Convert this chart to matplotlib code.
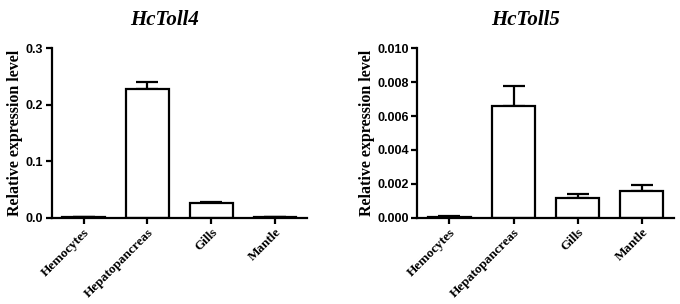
import matplotlib
matplotlib.use('Agg')
import matplotlib.pyplot as plt

tissues = ['Hemocytes', 'Hepatopancreas', 'Gills', 'Mantle']

toll4_mean = [0.0010, 0.2278, 0.0260, 0.0010]
toll4_err = [0.0003, 0.0125, 0.0020, 0.0003]

toll5_mean = [0.00008, 0.00657, 0.00118, 0.00161]
toll5_err = [0.00002, 0.00118, 0.00023, 0.00035]

fig = plt.figure(figsize=(6.8, 3.04), dpi=100)
ax1 = fig.add_axes([0.076, 0.283, 0.3755, 0.559])
ax2 = fig.add_axes([0.6137, 0.283, 0.3773, 0.559])

panels = [
    (ax1, 'HcToll4', toll4_mean, toll4_err, [0.0, 0.1, 0.2, 0.3], '%.1f', 0.444),
    (ax2, 'HcToll5', toll5_mean, toll5_err,
     [0.0, 0.002, 0.004, 0.006, 0.008, 0.010], '%.3f', 0.423),
]

for ax, title, mean, err, yt, fmt, tx in panels:
    pos = range(len(tissues))
    ax.bar(pos, mean, width=0.67, color='white', edgecolor='black',
           linewidth=1.6, zorder=2)
    ax.errorbar(pos, mean, yerr=[[0] * len(err), err], fmt='none',
                ecolor='black', elinewidth=1.6, capsize=8, capthick=1.6,
                zorder=1)
    ax.set_xlim(-0.5, 3.5)
    ax.set_ylim(0, yt[-1])
    ax.set_yticks(yt)
    ax.set_yticklabels([fmt % v for v in yt], fontfamily='Liberation Sans',
                       fontweight='bold', fontsize=9)
    ax.set_xticks(list(pos))
    ax.set_xticklabels(tissues, rotation=45, ha='right',
                       rotation_mode='anchor', fontfamily='Liberation Serif',
                       fontweight='bold', fontsize=9.5)
    for s in ['top', 'right']:
        ax.spines[s].set_visible(False)
    for s in ['left', 'bottom']:
        ax.spines[s].set_linewidth(1.6)
    ax.tick_params(axis='both', direction='out', length=4, width=1.6, pad=2)
    ax.set_ylabel('Relative expression level', fontfamily='Liberation Serif',
                  fontweight='bold', fontsize=11.5, labelpad=2)
    ax.text(tx, 1.165, title, transform=ax.transAxes, ha='center',
            va='center', fontfamily='Liberation Serif', fontweight='bold',
            fontstyle='italic', fontsize=15)

fig.savefig('out.png', dpi=100)
